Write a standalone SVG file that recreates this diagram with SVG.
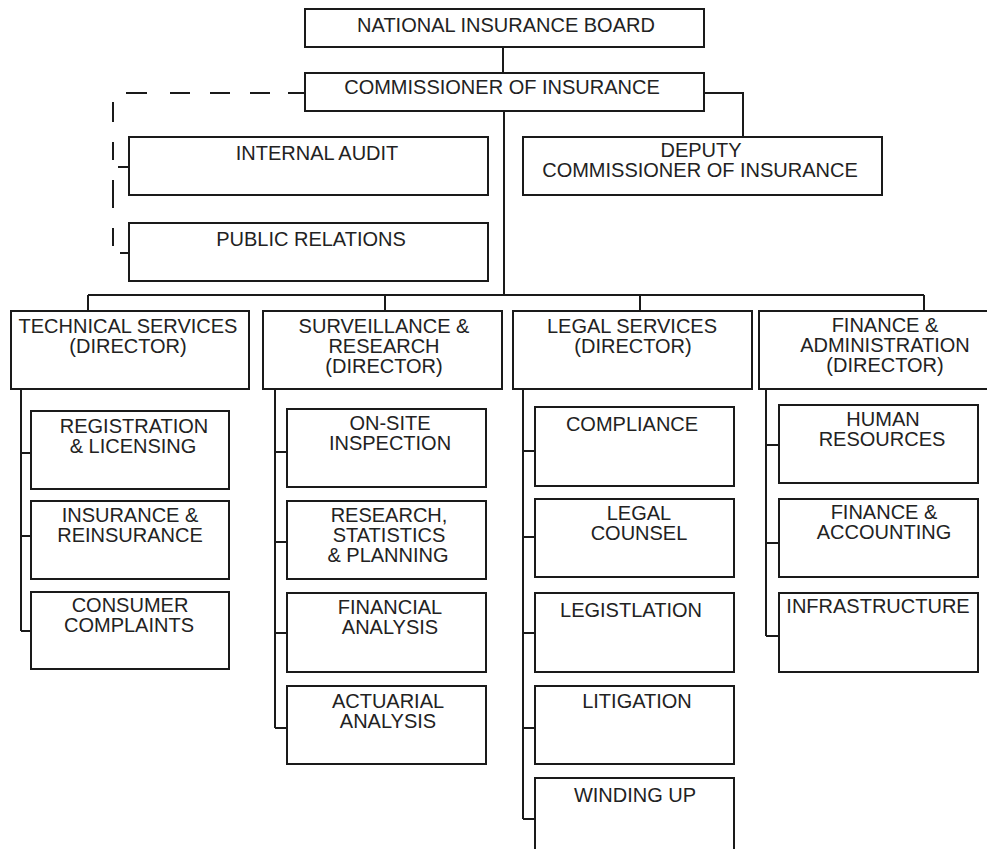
<svg xmlns="http://www.w3.org/2000/svg" width="987" height="849" viewBox="0 0 987 849">
<style>
.bg{fill:#ffffff}
.box{fill:#ffffff;stroke:#1a1a1a;stroke-width:2}
.ln{fill:none;stroke:#1a1a1a;stroke-width:2}
.dash{fill:none;stroke:#1a1a1a;stroke-width:2}
text{font-family:"Liberation Sans",Arial,sans-serif;font-size:20px;fill:#222;text-anchor:middle}
</style>
<rect class="bg" x="0" y="0" width="987" height="849"/>
<g id="connectors">
<path class="ln" d="M503,47V73 M504,111V295 M88,295H924 M88,295V311 M385,295V311 M640,295V311 M924,295V311 M704,93H743V137"/>
<path class="dash" d="M126,93H147 M170,93H190 M210,93H230 M250,93H270 M288,93H305 M113,102V122 M113,142V160 M113,180V208 M113,228V246 M118,167H129 M120,253H129"/>
<path class="ln" d="M21,389V631 M21,453H31 M21,536H31 M21,631H31"/>
<path class="ln" d="M275,389V728 M275,452H287 M275,542H287 M275,633H287 M275,728H287"/>
<path class="ln" d="M523,389V819 M523,451H535 M523,537H535 M523,633H535 M523,728H535 M523,819H535"/>
<path class="ln" d="M766,389V636 M766,445H779 M766,543H779 M766,636H779"/>
</g>
<g id="nib"><rect class="box" x="305" y="9" width="399" height="38"/><text x="506" y="32">NATIONAL INSURANCE BOARD</text></g>
<g id="commissioner"><rect class="box" x="305" y="73" width="399" height="38"/><text x="502" y="94">COMMISSIONER OF INSURANCE</text></g>
<g id="internal-audit"><rect class="box" x="129" y="137" width="359" height="58"/><text x="317" y="160">INTERNAL AUDIT</text></g>
<g id="public-relations"><rect class="box" x="129" y="223" width="359" height="58"/><text x="311" y="246">PUBLIC RELATIONS</text></g>
<g id="deputy"><rect class="box" x="523" y="137" width="359" height="58"/><text x="701" y="157">DEPUTY</text><text x="700" y="177">COMMISSIONER OF INSURANCE</text></g>
<g id="technical"><rect class="box" x="11" y="311" width="238" height="78"/><text x="128" y="333">TECHNICAL SERVICES</text><text x="128" y="353">(DIRECTOR)</text></g>
<g id="surveillance"><rect class="box" x="263" y="311" width="239" height="78"/><text x="384" y="333">SURVEILLANCE &amp;</text><text x="384" y="353">RESEARCH</text><text x="384" y="373">(DIRECTOR)</text></g>
<g id="legal"><rect class="box" x="513" y="311" width="239" height="78"/><text x="632" y="333">LEGAL SERVICES</text><text x="633" y="353">(DIRECTOR)</text></g>
<g id="finance-admin"><rect class="box" x="759" y="311" width="252" height="78"/><text x="885" y="332">FINANCE &amp;</text><text x="885" y="352">ADMINISTRATION</text><text x="885" y="372">(DIRECTOR)</text></g>
<g id="registration"><rect class="box" x="31" y="411" width="198" height="78"/><text x="134" y="433">REGISTRATION</text><text x="133" y="453">&amp; LICENSING</text></g>
<g id="insurance-reinsurance"><rect class="box" x="31" y="501" width="198" height="78"/><text x="130" y="522">INSURANCE &amp;</text><text x="130" y="542">REINSURANCE</text></g>
<g id="consumer-complaints"><rect class="box" x="31" y="592" width="198" height="77"/><text x="130" y="612">CONSUMER</text><text x="129" y="632">COMPLAINTS</text></g>
<g id="on-site"><rect class="box" x="287" y="409" width="199" height="78"/><text x="390" y="430">ON-SITE</text><text x="390" y="450">INSPECTION</text></g>
<g id="research"><rect class="box" x="287" y="501" width="199" height="78"/><text x="389" y="522">RESEARCH,</text><text x="389" y="542">STATISTICS</text><text x="388" y="562">&amp; PLANNING</text></g>
<g id="financial-analysis"><rect class="box" x="287" y="593" width="199" height="79"/><text x="390" y="614">FINANCIAL</text><text x="390" y="634">ANALYSIS</text></g>
<g id="actuarial"><rect class="box" x="287" y="686" width="199" height="78"/><text x="388" y="708">ACTUARIAL</text><text x="388" y="728">ANALYSIS</text></g>
<g id="compliance"><rect class="box" x="535" y="407" width="199" height="79"/><text x="632" y="431">COMPLIANCE</text></g>
<g id="legal-counsel"><rect class="box" x="535" y="499" width="199" height="78"/><text x="639" y="520">LEGAL</text><text x="639" y="540">COUNSEL</text></g>
<g id="legistlation"><rect class="box" x="535" y="593" width="199" height="79"/><text x="631" y="617">LEGISTLATION</text></g>
<g id="litigation"><rect class="box" x="535" y="686" width="199" height="78"/><text x="637" y="708">LITIGATION</text></g>
<g id="winding-up"><rect class="box" x="535" y="778" width="199" height="92"/><text x="635" y="802">WINDING UP</text></g>
<g id="human-resources"><rect class="box" x="779" y="405" width="199" height="78"/><text x="883" y="426">HUMAN</text><text x="882" y="446">RESOURCES</text></g>
<g id="finance-accounting"><rect class="box" x="779" y="499" width="199" height="78"/><text x="884" y="519">FINANCE &amp;</text><text x="884" y="539">ACCOUNTING</text></g>
<g id="infrastructure"><rect class="box" x="779" y="593" width="199" height="79"/><text x="878" y="613">INFRASTRUCTURE</text></g>
</svg>
